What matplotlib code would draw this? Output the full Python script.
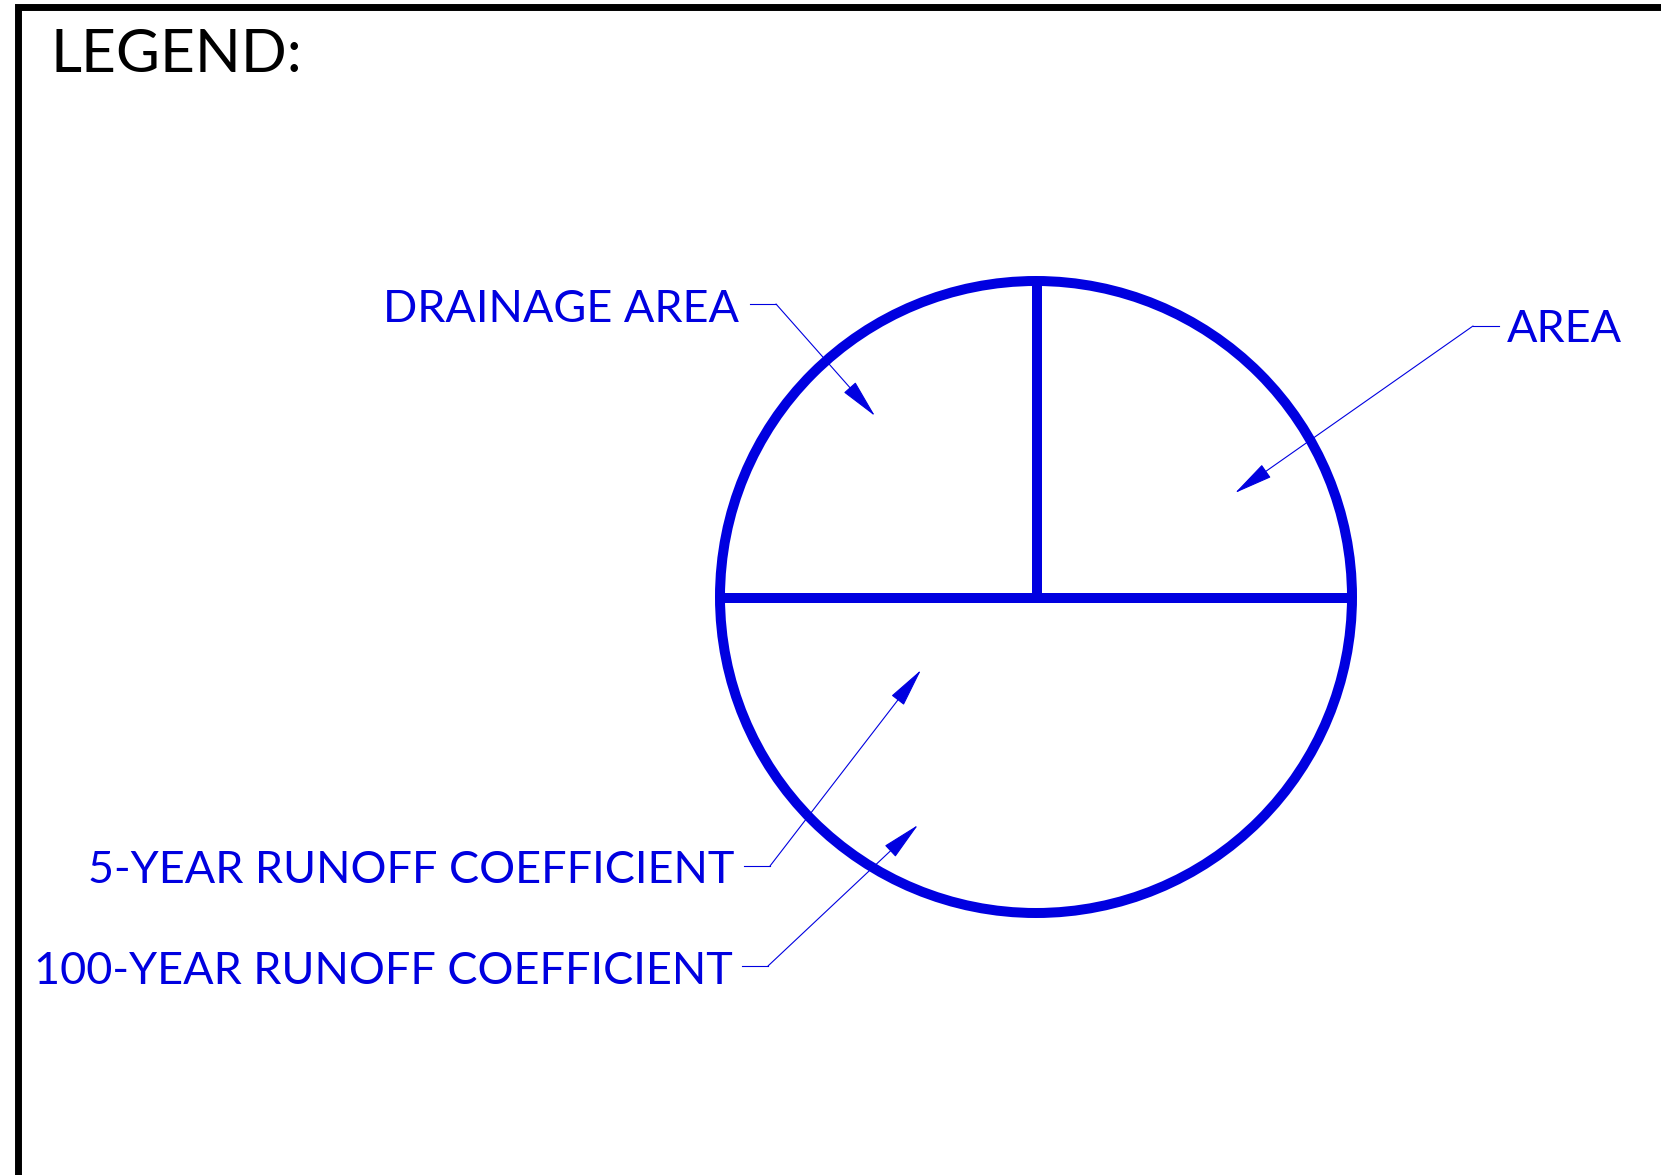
import matplotlib.pyplot as plt
from matplotlib.patches import Circle

BLUE = '#0000E0'
FONT = 'Lato'

# legend symbol: circle split into drainage area / area / coefficients
circle_center = (1036, 597)
circle_radius = 316

# label texts and leader geometry (pixel coords, y down)
labels = ['DRAINAGE AREA', 'AREA', '5-YEAR RUNOFF COEFFICIENT', '100-YEAR RUNOFF COEFFICIENT']
label_x = [739, 1507, 734, 733]
label_y = [322, 342, 883, 984]
label_ha = ['right', 'left', 'right', 'right']
leader_start = [(750, 304), (1499, 326), (744, 866), (742, 966)]
leader_elbow = [(776, 304), (1473, 326), (770, 866), (768, 966)]
leader_tip = [(875, 416), (1235, 493), (921, 670), (918, 825)]

fig = plt.figure(figsize=(16.61, 11.75), dpi=100)
ax = fig.add_axes([0, 0, 1, 1])
ax.set_xlim(0, 1661)
ax.set_ylim(1175, 0)
ax.axis('off')

# sheet border (left and top edge)
ax.plot([17.5, 17.5, 1661], [1175, 7, 7], color='black', lw=5, solid_joinstyle='miter')
ax.text(50, 72, 'LEGEND:', fontsize=43.5, family=FONT, color='black', ha='left', va='baseline')

# circle symbol
lw_sym = 7.2
ax.add_patch(Circle(circle_center, circle_radius, fill=False, ec=BLUE, lw=lw_sym))
cx, cy = circle_center
ax.plot([cx - circle_radius, cx + circle_radius], [cy + 1, cy + 1], color=BLUE, lw=lw_sym, solid_capstyle='butt')
ax.plot([cx + 1, cx + 1], [cy - circle_radius, cy + 1], color=BLUE, lw=lw_sym, solid_capstyle='butt')

for txt, x, y, ha, s, e, t in zip(labels, label_x, label_y, label_ha,
                                  leader_start, leader_elbow, leader_tip):
    ax.text(x, y, txt, fontsize=32.4, family=FONT, color=BLUE, ha=ha, va='baseline')
    ax.plot([s[0], e[0]], [s[1], e[1]], color=BLUE, lw=0.8)
    ax.annotate('', xy=t, xytext=e,
                arrowprops=dict(arrowstyle='-|>,head_length=2.5,head_width=0.5',
                                color=BLUE, lw=0.8, shrinkA=0, shrinkB=0))

fig.savefig('out.png', dpi=100)
